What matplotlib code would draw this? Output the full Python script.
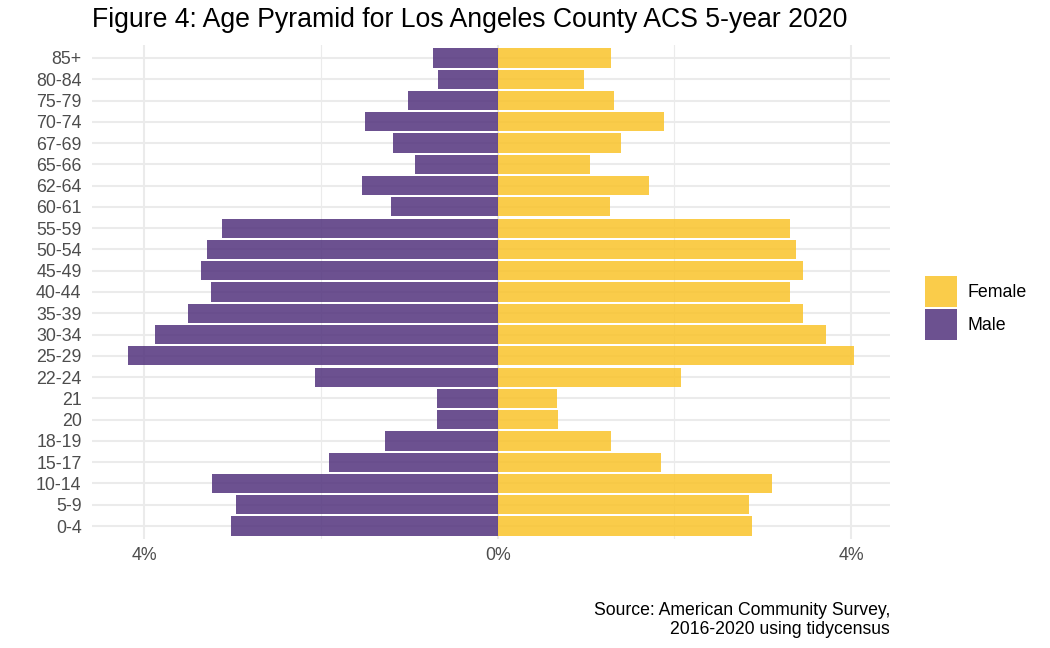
import matplotlib
matplotlib.use("Agg")
import matplotlib.pyplot as plt
from matplotlib.patches import Patch
from matplotlib.ticker import FixedLocator

plt.rcParams['font.family'] = ['Liberation Sans', 'DejaVu Sans']

age_groups = ["0-4", "5-9", "10-14", "15-17", "18-19", "20", "21", "22-24",
              "25-29", "30-34", "35-39", "40-44", "45-49", "50-54", "55-59",
              "60-61", "62-64", "65-66", "67-69", "70-74", "75-79", "80-84", "85+"]
male_pct = [3.02, 2.96, 3.23, 1.91, 1.28, 0.69, 0.69, 2.07,
            4.18, 3.88, 3.50, 3.24, 3.36, 3.29, 3.12,
            1.21, 1.53, 0.93, 1.18, 1.50, 1.01, 0.68, 0.73]
female_pct = [2.88, 2.84, 3.10, 1.85, 1.28, 0.68, 0.67, 2.08,
              4.03, 3.72, 3.46, 3.31, 3.46, 3.38, 3.31,
              1.27, 1.71, 1.04, 1.40, 1.88, 1.32, 0.98, 1.28]
x_ticks = [-4, 0, 4]
x_tick_labels = ["4%", "0%", "4%"]
minor_ticks = [-2, 2]

female_color = "#FAC42A"
male_color = "#52337D"

fig = plt.figure(figsize=(10.5, 6.48), dpi=100)
ax = fig.add_axes([92/1050, 1 - 538.8/648, (890-92)/1050, (538.8-45.2)/648])

ypos = list(range(len(age_groups)))
ax.barh(ypos, [-v for v in male_pct], height=0.9, color=male_color, alpha=0.85,
        zorder=3, linewidth=0)
ax.barh(ypos, female_pct, height=0.9, color=female_color, alpha=0.85,
        zorder=3, linewidth=0)

ax.set_yticks(ypos)
ax.set_yticklabels(age_groups)
ax.set_ylim(-0.6, len(age_groups) - 1 + 0.6)
ax.margins(x=0.05)
ax.set_xticks(x_ticks)
ax.set_xticklabels(x_tick_labels)
ax.xaxis.set_minor_locator(FixedLocator(minor_ticks))

ax.grid(True, which='major', axis='both', color='#EBEBEB', linewidth=1.5, zorder=0)
ax.grid(True, which='minor', axis='x', color='#EBEBEB', linewidth=0.8, zorder=0)
ax.set_axisbelow(True)
for s in ax.spines.values():
    s.set_visible(False)
ax.tick_params(axis='both', which='both', length=0, labelsize=12.8, labelcolor='#4D4D4D')
ax.tick_params(axis='y', pad=7.5)
ax.tick_params(axis='x', pad=6)

fig.text(92/1050, 1 - 20/648, "Figure 4: Age Pyramid for Los Angeles County ACS 5-year 2020",
         fontsize=19.2, ha='left', va='center', color='black')

fig.text(890/1050, 1 - 620/648, "Source: American Community Survey,\n2016-2020 using tidycensus",
         fontsize=12.7, ha='right', va='center', color='black', linespacing=1.1)

handles = [Patch(facecolor=female_color, alpha=0.85, edgecolor='none', label='Female'),
           Patch(facecolor=male_color, alpha=0.85, edgecolor='none', label='Male')]
fig.legend(handles=handles, loc='center left', bbox_to_anchor=(925/1050, 1 - 308/648),
           frameon=False, fontsize=12.8, handlelength=1.8, handleheight=2.3,
           labelspacing=0.15, handletextpad=0.6, borderaxespad=0, borderpad=0)

fig.savefig("out.png", dpi=100)
